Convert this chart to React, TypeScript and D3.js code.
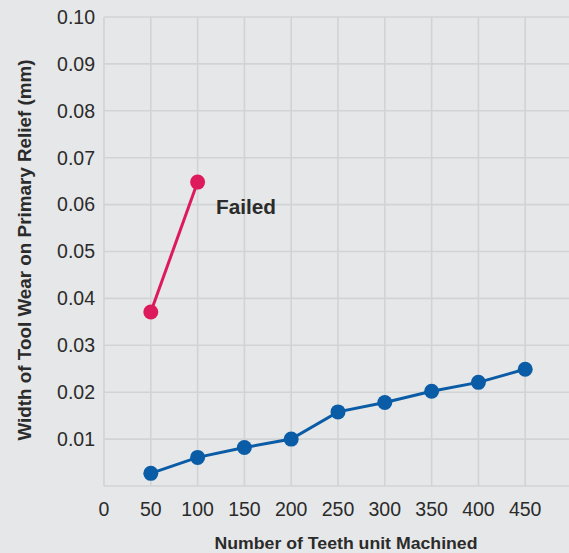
import React from "react";
import * as d3 from "d3";

const xTicks = [0, 50, 100, 150, 200, 250, 300, 350, 400, 450];
const yTicks = [0.01, 0.02, 0.03, 0.04, 0.05, 0.06, 0.07, 0.08, 0.09, 0.1];
const blueX = [50, 100, 150, 200, 250, 300, 350, 400, 450];
const blueY = [0.0027, 0.0061, 0.0082, 0.0100, 0.0158, 0.0178, 0.0202, 0.0221, 0.0249];
const redX = [50, 100];
const redY = [0.0371, 0.0648];
const failedLabel = "Failed";
const xTitle = "Number of Teeth unit Machined";
const yTitle = "Width of Tool Wear on Primary Relief (mm)";

const W = 569;
const H = 553;
const FONT = "'Liberation Sans', Arial, sans-serif";

export default function App() {
  const x = d3.scaleLinear().domain([0, 500]).range([104, 572]);
  const y = d3.scaleLinear().domain([0, 0.1]).range([486, 17]);
  const line = d3
    .line<[number, number]>()
    .x((d) => x(d[0]))
    .y((d) => y(d[1]));
  const blue: [number, number][] = blueX.map((v, i) => [v, blueY[i]]);
  const red: [number, number][] = redX.map((v, i) => [v, redY[i]]);
  const gridColor = "#d2d3d5";
  const textColor = "#2b2b2b";
  const blueColor = "#0b5ca6";
  const redColor = "#dd1a5b";
  return (
    <svg
      width={W}
      height={H}
      style={{ position: "absolute", left: 0, top: 0, background: "#e6e7e8" }}
    >
      <rect x={0} y={0} width={W} height={H} fill="#e6e7e8" />
      {/* horizontal grid */}
      {[0, ...yTicks].map((t) => (
        <line
          key={"h" + t}
          x1={x(0)}
          x2={W}
          y1={y(t)}
          y2={y(t)}
          stroke={gridColor}
          strokeWidth={1.6}
        />
      ))}
      {/* vertical grid */}
      {xTicks.map((t) => (
        <line
          key={"v" + t}
          x1={x(t)}
          x2={x(t)}
          y1={y(0.1)}
          y2={y(0)}
          stroke={gridColor}
          strokeWidth={1.6}
        />
      ))}
      {/* y tick labels */}
      {yTicks.map((t) => (
        <text
          key={"yl" + t}
          x={95}
          y={y(t)}
          dy="0.35em"
          textAnchor="end"
          fontFamily={FONT}
          fontSize={19.5}
          fill={textColor}
        >
          {d3.format(".2f")(t)}
        </text>
      ))}
      {/* x tick labels */}
      {xTicks.map((t) => (
        <text
          key={"xl" + t}
          x={x(t)}
          y={516}
          textAnchor="middle"
          fontFamily={FONT}
          fontSize={19.5}
          fill={textColor}
        >
          {t}
        </text>
      ))}
      {/* series */}
      <path d={line(blue) || ""} fill="none" stroke={blueColor} strokeWidth={3} />
      {blue.map((d, i) => (
        <circle key={"b" + i} cx={x(d[0])} cy={y(d[1])} r={7.5} fill={blueColor} />
      ))}
      <path d={line(red) || ""} fill="none" stroke={redColor} strokeWidth={3} />
      {red.map((d, i) => (
        <circle key={"r" + i} cx={x(d[0])} cy={y(d[1])} r={7.5} fill={redColor} />
      ))}
      <text
        x={216}
        y={214}
        fontFamily={FONT}
        fontWeight="bold"
        fontSize={20}
        textLength={60}
        lengthAdjust="spacingAndGlyphs"
        fill={textColor}
      >
        {failedLabel}
      </text>
      {/* axis titles */}
      <text
        x={346}
        y={549}
        textAnchor="middle"
        fontFamily={FONT}
        fontWeight="bold"
        fontSize={17}
        textLength={263}
        lengthAdjust="spacingAndGlyphs"
        fill={textColor}
      >
        {xTitle}
      </text>
      <text
        transform={`translate(31, 250) rotate(-90)`}
        textAnchor="middle"
        fontFamily={FONT}
        fontWeight="bold"
        fontSize={18}
        textLength={381}
        lengthAdjust="spacingAndGlyphs"
        fill={textColor}
      >
        {yTitle}
      </text>
    </svg>
  );
}
